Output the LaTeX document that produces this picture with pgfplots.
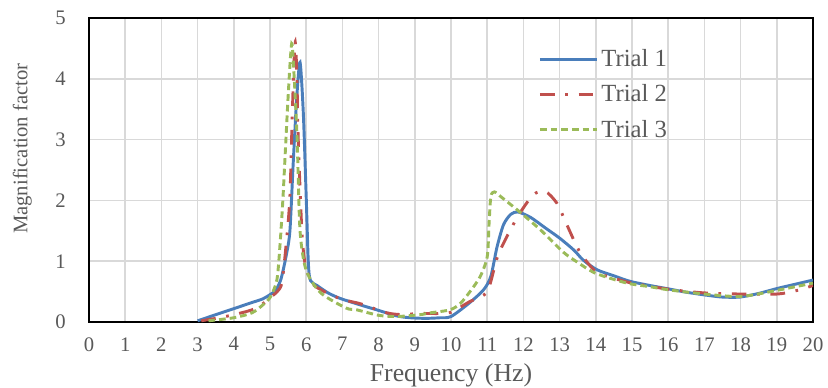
\documentclass[border=0pt]{standalone}
\usepackage{pgfplots}
\pgfplotsset{compat=1.18}
\usepackage{fontspec}
\setmainfont{Liberation Serif}
\definecolor{tblue}{RGB}{74,126,187}
\definecolor{tred}{RGB}{192,80,77}
\definecolor{tgreen}{RGB}{155,187,89}
\definecolor{tgray}{RGB}{89,89,89}
\definecolor{gridc}{RGB}{217,217,217}
\begin{document}
\begin{tikzpicture}
\useasboundingbox (-66.75pt,-48.75pt) rectangle (554.25pt,241.5pt);
\begin{axis}[
  at={(0,0)}, anchor=south west,
  scale only axis, width=543pt, height=228pt,
  xmin=0, xmax=20, ymin=0, ymax=5,
  xtick={0,1,...,20}, ytick={0,1,...,5},
  major tick length=0pt,
  grid=major,
  major grid style={draw=gridc, line width=1.1pt},
  axis line style={black, line width=1.3pt},
  /pgf/number format/assume math mode=true,
  tick label style={font=\fontsize{15.5}{17}\selectfont, text=tgray},
  xticklabel style={yshift=-8pt},
  yticklabel style={xshift=-14pt},
  xlabel={Frequency (Hz)},
  ylabel={Magnification factor},
  xlabel style={font=\fontsize{19.3}{21}\selectfont, text=tgray, at={(rel axis cs:0.5,0)}, anchor=center, yshift=-40pt},
  ylabel style={font=\fontsize{15.5}{18}\selectfont, text=tgray, at={(rel axis cs:-0.092,0.57)}, anchor=center},
  legend style={at={(axis cs:12.3,4.57)}, anchor=north west, draw=none, fill=none,
    font=\fontsize{18.5}{20}\selectfont, text=tgray, row sep=8pt,
    nodes={inner sep=2pt}},
  legend cell align=left,
  legend image code/.code={\draw[#1] (0pt,0pt) -- (43pt,0pt);},
]
\addplot[tblue, line width=2.2pt, smooth, tension=0.45] coordinates {
(3,0.02) (3.5,0.12) (4,0.22) (4.5,0.32) (4.8,0.38) (5.0,0.45) (5.15,0.52) (5.3,0.7) (5.45,1.1) (5.55,1.5) (5.64,2.6) (5.74,3.7) (5.83,4.27) (5.92,3.44) (6.0,2.06) (6.06,0.96) (6.12,0.68) (6.3,0.6) (6.6,0.48) (6.93,0.39) (7.5,0.28) (7.95,0.2) (8.5,0.1) (8.87,0.07) (9.3,0.06) (9.7,0.07) (10.0,0.09) (10.5,0.31) (10.9,0.53) (11.1,0.75) (11.27,1.23) (11.45,1.6) (11.65,1.77) (11.85,1.81) (12.2,1.72) (12.6,1.55) (13.0,1.38) (13.4,1.18) (13.65,1.02) (14.03,0.86) (14.5,0.76) (14.94,0.67) (15.5,0.6) (16.05,0.54) (16.5,0.49) (17.07,0.44) (17.5,0.41) (17.98,0.41) (18.5,0.47) (19,0.55) (19.5,0.62) (20,0.69)
};
\addlegendentry{Trial 1}
\addplot[tred, line width=2.2pt, smooth, tension=0.45, dash pattern=on 11pt off 8pt on 2pt off 8pt] coordinates {
(3.1,0.02) (3.5,0.06) (4,0.12) (4.5,0.2) (4.8,0.3) (5.0,0.4) (5.2,0.5) (5.33,0.65) (5.45,1.3) (5.55,2.06) (5.62,3.5) (5.69,4.6) (5.74,4.1) (5.78,3.0) (5.88,1.5) (5.97,0.96) (6.16,0.64) (6.5,0.5) (7.0,0.37) (7.5,0.3) (8.23,0.15) (8.7,0.12) (9.06,0.14) (9.7,0.14) (10.0,0.16) (10.5,0.33) (11.0,0.5) (11.3,1.1) (11.82,1.71) (12.27,2.09) (12.6,2.15) (12.93,1.95) (13.2,1.6) (13.56,1.15) (14.0,0.83) (14.5,0.72) (15,0.64) (16,0.54) (16.96,0.48) (18,0.46) (19,0.46) (19.5,0.51) (20,0.6)
};
\addlegendentry{Trial 2}
\addplot[tgreen, line width=2.2pt, smooth, tension=0.45, dash pattern=on 5pt off 3pt] coordinates {
(3.3,0.02) (4,0.07) (4.5,0.15) (4.8,0.28) (5.0,0.4) (5.19,0.69) (5.28,1.3) (5.36,2.06) (5.5,3.7) (5.6,4.58) (5.67,4.0) (5.75,3.0) (5.83,1.5) (6.0,0.85) (6.4,0.48) (7.1,0.23) (7.4,0.2) (8.0,0.11) (8.5,0.09) (9.14,0.12) (9.42,0.15) (9.97,0.2) (10.25,0.3) (10.5,0.48) (10.8,0.74) (11.0,1.07) (11.05,1.6) (11.1,2.06) (11.2,2.14) (11.4,2.05) (11.9,1.81) (12.5,1.5) (13.1,1.15) (13.5,0.98) (14.0,0.8) (14.86,0.64) (15.5,0.58) (16,0.53) (17,0.46) (18,0.42) (19,0.52) (20,0.64)
};
\addlegendentry{Trial 3}
\end{axis}
\end{tikzpicture}
\end{document}
